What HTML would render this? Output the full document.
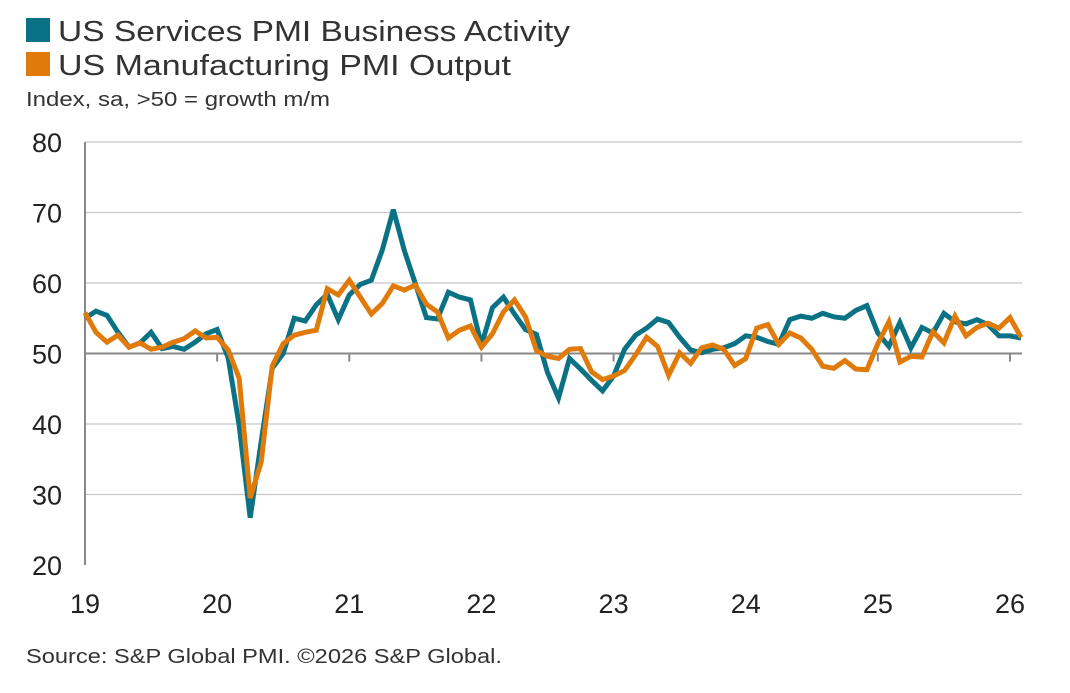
<!DOCTYPE html>
<html><head><meta charset="utf-8"><style>
body{margin:0;background:#fff;font-family:"Liberation Sans",sans-serif;}
svg{display:block}
</style></head><body>
<svg width="1070" height="693">
<g>
<rect x="26" y="18" width="24" height="24" fill="#0b7285"/>
<text x="58" y="41" font-size="29" fill="#333" textLength="512" lengthAdjust="spacingAndGlyphs">US Services PMI Business Activity</text>
<rect x="26" y="52" width="24" height="24" fill="#e07b0b"/>
<text x="58" y="75" font-size="29" fill="#333" textLength="453" lengthAdjust="spacingAndGlyphs">US Manufacturing PMI Output</text>
</g>
<text x="26" y="106" font-size="20" fill="#333" textLength="304" lengthAdjust="spacingAndGlyphs">Index, sa, &gt;50 = growth m/m</text>
<g id="grid"></g><g id="axes"></g><g id="lines"></g>
<text x="26" y="663" font-size="20" fill="#333" textLength="476" lengthAdjust="spacingAndGlyphs">Source: S&amp;P Global PMI. ©2026 S&amp;P Global.</text>
</svg>
<script>
const yTicks=[20,30,40,50,60,70,80];
const xLabels=["19","20","21","22","23","24","25","26"];
const services=[55.0,56.0,55.4,53.0,50.9,51.5,53.0,50.7,51.0,50.6,51.6,52.8,
53.4,49.4,39.8,26.7,37.5,47.9,50.0,55.0,54.6,56.9,58.4,54.8,
58.3,59.8,60.4,64.7,70.4,64.6,59.9,55.1,54.9,58.7,58.0,57.6,
51.2,56.5,58.0,55.6,53.4,52.7,47.3,43.7,49.3,47.8,46.2,44.7,
46.8,50.6,52.6,53.6,54.9,54.4,52.3,50.5,50.1,50.6,50.8,51.4,
52.5,52.3,51.7,51.3,54.8,55.3,55.0,55.7,55.2,55.0,56.1,56.8,
52.9,51.0,54.4,50.8,53.7,52.9,55.7,54.5,54.2,54.8,54.1,52.5,52.5,52.2];
const manufacturing=[55.8,53.0,51.6,52.6,50.9,51.5,50.6,50.9,51.6,52.1,53.2,52.2,
52.3,50.5,46.5,29.5,34.6,48.2,51.4,52.6,53.0,53.3,59.2,58.3,
60.4,58.0,55.6,57.1,59.6,59.0,59.7,57.0,55.9,52.2,53.3,53.9,
50.9,52.8,55.9,57.6,55.2,50.4,49.6,49.3,50.6,50.7,47.4,46.3,
46.8,47.6,49.8,52.3,51.0,46.9,50.1,48.6,50.8,51.2,50.6,48.3,
49.3,53.6,54.1,51.3,52.9,52.2,50.6,48.2,47.9,49.0,47.8,47.7,
51.4,54.5,48.8,49.6,49.5,53.1,51.5,55.3,52.5,53.7,54.3,53.6,55.1,52.3];
const NS="http://www.w3.org/2000/svg";
const y=v=>565-(v-20)*(565-142)/60;
const x=i=>85+i*(1010-85)/84;
function mk(tag,attrs,parent){const e=document.createElementNS(NS,tag);for(const k in attrs)e.setAttribute(k,attrs[k]);parent.appendChild(e);return e;}
const grid=document.getElementById('grid'),axes=document.getElementById('axes'),lines=document.getElementById('lines');
yTicks.forEach(t=>{
 if(t!==20&&t!==50){const l=mk('line',{x1:85,x2:1022,y1:y(t),y2:y(t),stroke:'#c8c8c8','stroke-width':1.3},grid);
 
 }
 const tx=mk('text',{x:62,y:y(t)+10,'font-size':27,'text-anchor':'end',fill:'#222'},axes);tx.textContent=t;
 
 
});
const ya=mk('line',{x1:85,x2:85,y1:142,y2:565,stroke:'#888','stroke-width':2},axes);


const xa=mk('line',{x1:85,x2:1022,y1:y(50),y2:y(50),stroke:'#888','stroke-width':2},axes);


xLabels.forEach((lab,k)=>{
 const xx=x(k*12);
 const tk=mk('line',{x1:xx,x2:xx,y1:y(50),y2:y(50)+8,stroke:'#888','stroke-width':2},axes);
 
 
 const tx=mk('text',{x:xx,y:613,'font-size':27,'text-anchor':'middle',fill:'#222'},axes);tx.textContent=lab;
 
 
});
function series(d,c,name){
 const p=mk('polyline',{points:d.map((v,i)=>x(i)+','+y(v)).join(' '),fill:'none',stroke:c,'stroke-width':5,'stroke-linejoin':'miter','stroke-miterlimit':3},lines);
 
 
}
series(services,'#0b7285','services-line');
series(manufacturing,'#e07b0b','manufacturing-line');
</script>
</body></html>
